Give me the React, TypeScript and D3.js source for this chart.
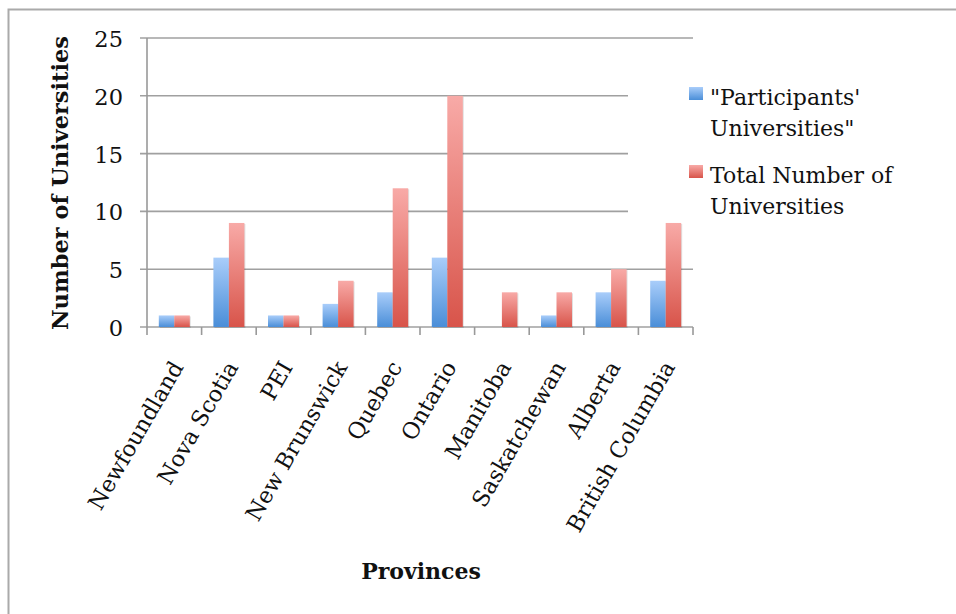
import * as d3 from "d3";

const provinces = [
  "Newfoundland",
  "Nova Scotia",
  "PEI",
  "New Brunswick",
  "Quebec",
  "Ontario",
  "Manitoba",
  "Saskatchewan",
  "Alberta",
  "British Columbia",
];
const participants = [1, 6, 1, 2, 3, 6, 0, 1, 3, 4];
const totals = [1, 9, 1, 4, 12, 20, 3, 3, 5, 9];
const yTicks = [0, 5, 10, 15, 20, 25];
const seriesKeys = ["participants", "totals"];
const legendLines = [
  ["\"Participants'", "Universities\""],
  ["Total Number of", "Universities"],
];

const W = 956,
  H = 614;
const plot = { left: 147, right: 693, top: 38, bottom: 327 };
const serif = "'DejaVu Serif', serif";

const App = () => {
  const x = d3.scaleBand().domain(provinces).range([plot.left, plot.right]);
  const y = d3.scaleLinear().domain([0, 25]).range([plot.bottom, plot.top]);
  const bw = x.bandwidth();
  const barW = 15.5;
  const xSub = d3
    .scaleBand()
    .domain(seriesKeys)
    .range([bw / 2 - barW, bw / 2 + barW]);
  const values: Record<string, number[]> = { participants, totals };
  const fills: Record<string, string> = {
    participants: "url(#grad-blue)",
    totals: "url(#grad-red)",
  };

  return (
    <svg
      width={W}
      height={H}
      style={{ position: "absolute", left: 0, top: 0, background: "#fff" }}
    >
      <defs>
        <linearGradient id="grad-blue" x1="0" x2="0" y1="0" y2="1">
          <stop offset="0%" stopColor="#a9cdfa" />
          <stop offset="100%" stopColor="#4a8ed8" />
        </linearGradient>
        <linearGradient id="grad-red" x1="0" x2="0" y1="0" y2="1">
          <stop offset="0%" stopColor="#f8aaa7" />
          <stop offset="100%" stopColor="#d8544a" />
        </linearGradient>
      </defs>

      {/* outer frame */}
      <rect x={8.5} y={9.5} width={W + 20} height={H + 20} fill="#fff" stroke="#aaa" strokeWidth={2} />

      {/* gridlines */}
      {yTicks.map((t) => (
        <line
          key={"g" + t}
          x1={plot.left - 7}
          x2={plot.right}
          y1={y(t)}
          y2={y(t)}
          stroke="#a0a0a0"
          strokeWidth={1.6}
        />
      ))}
      {/* legend background (hides middle gridlines) */}
      <rect x={628} y={48} width={330} height={208} fill="#fff" />

      {/* bars */}
      {provinces.map((p, i) => (
        <g key={p} transform={`translate(${x(p)},0)`}>
          {seriesKeys.map((k) => {
            const v = values[k][i];
            if (!v) return null;
            const bx = xSub(k) as number;
            return (
              <g key={k}>
                <rect x={bx + 1} y={y(v) + 1} width={barW} height={y(0) - y(v)} fill="#000" opacity={0.12} />
                <rect x={bx} y={y(v)} width={barW} height={y(0) - y(v)} fill={fills[k]} />
              </g>
            );
          })}
        </g>
      ))}

      {/* y axis */}
      <line x1={plot.left} x2={plot.left} y1={plot.top} y2={plot.bottom} stroke="#999" strokeWidth={1.6} />
      {yTicks.map((t) => (
        <text
          key={"yl" + t}
          x={123}
          y={y(t) + 3}
          textAnchor="end"
          dominantBaseline="middle"
          fontFamily={serif}
          fontSize={22.5}
          fill="#111"
        >
          {t}
        </text>
      ))}

      {/* x axis */}
      {[...provinces.map((p) => x(p) as number), plot.right].map((tx, i) => (
        <line key={"xt" + i} x1={tx} x2={tx} y1={plot.bottom} y2={plot.bottom + 8} stroke="#999" strokeWidth={1.6} />
      ))}
      {provinces.map((p) => (
        <text
          key={"xl" + p}
          transform={`translate(${(x(p) as number) + bw / 2 + 10},367) rotate(-60)`}
          textAnchor="end"
          fontFamily={serif}
          fontSize={22.5}
          fill="#111"
        >
          {p}
        </text>
      ))}

      {/* axis titles */}
      <text
        transform="translate(62,183) rotate(-90)"
        textAnchor="middle"
        dominantBaseline="middle"
        fontFamily={serif}
        fontWeight="bold"
        fontSize={22.5}
        fill="#111"
      >
        Number of Universities
      </text>
      <text
        x={421}
        y={573}
        textAnchor="middle"
        dominantBaseline="middle"
        fontFamily={serif}
        fontWeight="bold"
        fontSize={22}
        fill="#111"
      >
        Provinces
      </text>

      {/* legend */}
      {seriesKeys.map((k, i) => (
        <g key={"lg" + k} transform={`translate(689,${87 + i * 78})`}>
          <rect x={0} y={0} width={14} height={13} fill={fills[k]} />
          {legendLines[i].map((line, j) => (
            <text key={j} x={21} y={18 + j * 31} fontFamily={serif} fontSize={22} fill="#111">
              {line}
            </text>
          ))}
        </g>
      ))}
    </svg>
  );
};

export default App;
